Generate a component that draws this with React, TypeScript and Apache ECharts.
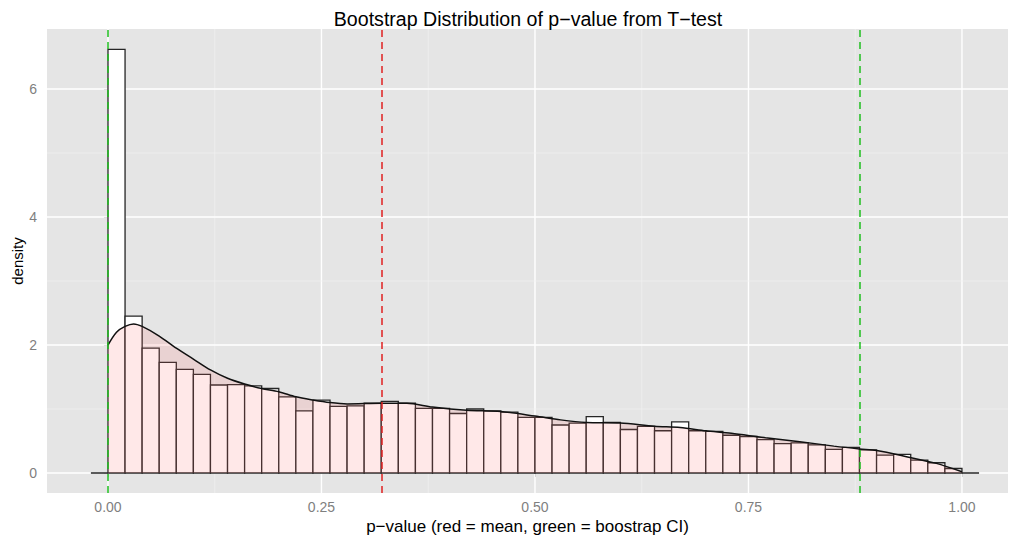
import React, { useEffect, useRef } from "react";
import * as echarts from "echarts";

// Histogram: bin width 0.02, first bin starts at -0.02 (empty edge bins at both ends)
const binStart = -0.02;
const binWidth = 0.02;
const binDensity = [
  0,
  6.62, 2.45, 1.95, 1.73, 1.62, 1.54, 1.375, 1.38, 1.36, 1.32,
  1.19, 0.97, 1.14, 1.04, 1.05, 1.09, 1.12, 1.09, 1.01, 1.01,
  0.93, 1.0, 0.97, 0.95, 0.87, 0.87, 0.75, 0.78, 0.88, 0.79,
  0.68, 0.73, 0.66, 0.8, 0.66, 0.65, 0.59, 0.57, 0.52, 0.46,
  0.47, 0.44, 0.37, 0.4, 0.36, 0.28, 0.29, 0.2, 0.16, 0.07,
  0,
];

// Kernel density estimate
const densityX = [
  0, 0.01, 0.02, 0.03, 0.04, 0.06, 0.08, 0.1, 0.12, 0.14, 0.16, 0.18, 0.2, 0.22,
  0.24, 0.26, 0.28, 0.32, 0.35, 0.38, 0.42, 0.46, 0.5, 0.53, 0.56, 0.6, 0.64,
  0.67, 0.7, 0.73, 0.77, 0.81, 0.85, 0.88, 0.9, 0.935, 0.97, 1.0,
];
const densityY = [
  2.0, 2.2, 2.29, 2.33, 2.29, 2.14, 1.95, 1.78, 1.61, 1.48, 1.39, 1.32, 1.27, 1.19,
  1.14, 1.1, 1.08, 1.09, 1.09, 1.03, 0.98, 0.96, 0.89, 0.83, 0.79, 0.78, 0.73,
  0.71, 0.66, 0.62, 0.55, 0.49, 0.42, 0.375, 0.35, 0.255, 0.15, 0.02,
];

// Reference lines
const meanP = 0.32;
const ciLow = 0.0;
const ciHigh = 0.882;

// Axes
const xTicks = [0, 0.25, 0.5, 0.75, 1.0];
const xMinor = [0.125, 0.375, 0.625, 0.875];
const yTicks = [0, 2, 4, 6];
const yMinor = [1, 3, 5];

const FONT = "'Liberation Sans', Arial, Helvetica, sans-serif";

export default function App() {
  const ref = useRef<HTMLDivElement>(null);

  useEffect(() => {
    if (!ref.current) return;
    const chart = echarts.init(ref.current, null, { renderer: "svg" });

    const histData = binDensity.map((d, i) => [
      binStart + i * binWidth,
      binStart + (i + 1) * binWidth,
      d,
    ]);
    const gridX = [
      ...xTicks.map((v) => [v, 0, 1]),
      ...xMinor.map((v) => [v, 0, 0]),
    ];
    const gridY = [
      ...yTicks.map((v) => [0, v, 1]),
      ...yMinor.map((v) => [0, v, 0]),
    ];

    const option: any = {
      animation: false,
      backgroundColor: "#ffffff",
      title: {
        text: "Bootstrap Distribution of p\u2212value from T\u2212test",
        left: 523,
        top: 4,
        textAlign: "center",
        textStyle: {
          fontFamily: FONT,
          fontSize: 19.6,
          fontWeight: "normal",
          color: "#000",
        },
      },
      grid: {
        left: 47,
        right: 5,
        top: 29,
        bottom: 47,
        show: true,
        backgroundColor: "#E5E5E5",
        borderWidth: 0,
        containLabel: false,
        outerBoundsMode: "none",
      },
      xAxis: {
        type: "value",
        min: -0.0714,
        max: 1.0539,
        splitLine: { show: false },
        axisLine: { show: false },
        axisTick: {
          show: true,
          customValues: xTicks,
          length: 4,
          lineStyle: { color: "#7F7F7F", width: 1 },
        },
        axisLabel: {
          customValues: xTicks,
          formatter: (v: number) => v.toFixed(2),
          color: "#7F7F7F",
          fontSize: 14,
          fontFamily: FONT,
          margin: 7,
        },
        name: "p\u2212value (red = mean, green = boostrap CI)",
        nameLocation: "middle",
        nameGap: 25,
        nameMoveOverlap: false,
        nameTextStyle: { color: "#000", fontSize: 17, fontFamily: FONT },
      },
      yAxis: {
        type: "value",
        min: -0.3125,
        max: 6.9375,
        splitLine: { show: false },
        axisLine: { show: false },
        axisTick: {
          show: true,
          customValues: yTicks,
          length: 4,
          lineStyle: { color: "#7F7F7F", width: 1 },
        },
        axisLabel: {
          customValues: yTicks,
          color: "#7F7F7F",
          fontSize: 14,
          fontFamily: FONT,
          margin: 10,
        },
        name: "density",
        nameLocation: "middle",
        nameGap: 22,
        nameMoveOverlap: false,
        nameRotate: 90,
        nameTextStyle: { color: "#000", fontSize: 15, fontFamily: FONT },
      },
      series: [
        {
          type: "custom",
          name: "xgrid",
          silent: true,
          z: 1,
          data: gridX,
          encode: { x: 0, y: 1 },
          renderItem: (params: any, api: any) => {
            const cs = params.coordSys;
            const px = api.coord([api.value(0), 0])[0];
            const major = api.value(2) === 1;
            return {
              type: "line",
              shape: { x1: px, y1: cs.y, x2: px, y2: cs.y + cs.height },
              style: { stroke: major ? "#FFFFFF" : "#F2F2F2", lineWidth: major ? 1.4 : 0.6 },
            };
          },
        },
        {
          type: "custom",
          name: "ygrid",
          silent: true,
          z: 1,
          data: gridY,
          encode: { x: 0, y: 1 },
          renderItem: (params: any, api: any) => {
            const cs = params.coordSys;
            const py = api.coord([0, api.value(1)])[1];
            const major = api.value(2) === 1;
            return {
              type: "line",
              shape: { x1: cs.x, y1: py, x2: cs.x + cs.width, y2: py },
              style: { stroke: major ? "#FFFFFF" : "#F2F2F2", lineWidth: major ? 1.4 : 0.6 },
            };
          },
        },
        {
          type: "custom",
          name: "histogram",
          z: 2,
          data: histData,
          encode: { x: [0, 1], y: 2 },
          renderItem: (params: any, api: any) => {
            const p0 = api.coord([api.value(0), api.value(2)]);
            const p1 = api.coord([api.value(1), 0]);
            return {
              type: "rect",
              shape: { x: p0[0], y: p0[1], width: p1[0] - p0[0], height: p1[1] - p0[1] },
              style: { fill: "#FFFFFF", stroke: "#262626", lineWidth: 1.3 },
            };
          },
        },
        {
          type: "line",
          name: "density",
          z: 3,
          data: densityX.map((x, i) => [x, densityY[i]]),
          smooth: 0.3,
          showSymbol: false,
          symbol: "none",
          lineStyle: { color: "#111111", width: 1.5 },
          areaStyle: { color: "rgba(255,102,102,0.22)" },
          markLine: {
            silent: true,
            symbol: ["none", "none"],
            label: { show: false },
            data: [
              { xAxis: meanP, lineStyle: { color: "#E02020", type: [7, 5], width: 1.5 } },
              { xAxis: ciLow, lineStyle: { color: "#1FBF1F", type: [7, 5], width: 1.5 } },
              { xAxis: ciHigh, lineStyle: { color: "#1FBF1F", type: [7, 5], width: 1.5 } },
            ],
          },
        },
      ],
    };

    chart.setOption(option);
    return () => chart.dispose();
  }, []);

  return (
    <div
      ref={ref}
      style={{ position: "absolute", left: 0, top: 0, width: 1013, height: 540 }}
    />
  );
}
